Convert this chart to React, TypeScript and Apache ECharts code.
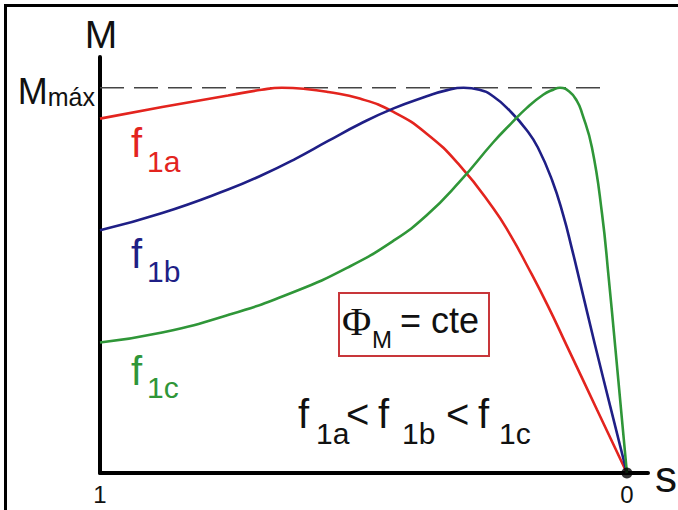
import React, { useEffect, useRef } from "react";
import * as echarts from "echarts";

// Torque–slip characteristics M(s) for three supply frequencies at constant flux.
// s runs from 1 (standstill, left) to 0 (synchronism, right); M in % of Mmáx.
const sRed = [1, 0.882, 0.757, 0.693, 0.655, 0.61, 0.567, 0.507, 0.444, 0.38, 0.317, 0.254, 0.22, 0.19, 0.15, 0.114, 0.057, 0];
const mRed = [92.0, 95.0, 98.0, 99.5, 100, 99.7, 98.9, 97.2, 93.8, 88.1, 79.8, 68.8, 61.5, 54.0, 43.4, 33.0, 16.5, 0];

const sBlue = [1, 0.882, 0.757, 0.693, 0.63, 0.567, 0.507, 0.444, 0.38, 0.341, 0.31, 0.28, 0.254, 0.222, 0.19, 0.169, 0.142, 0.121, 0.104, 0.089, 0.061, 0.032, 0];
const mBlue = [63.0, 67.5, 73.6, 77.3, 81.5, 86.2, 90.6, 94.6, 97.8, 99.4, 100, 99.5, 97.8, 94.0, 89.0, 84.5, 76.0, 67.0, 58.0, 49.5, 33.5, 17.5, 0];

const sGreen = [1, 0.882, 0.757, 0.63, 0.529, 0.444, 0.38, 0.317, 0.254, 0.22, 0.19, 0.159, 0.14, 0.127, 0.11, 0.095, 0.0854, 0.0664, 0.0474, 0.0345, 0.022, 0.0105, 0];
const mGreen = [33.9, 36.5, 41.0, 47.1, 53.4, 60.2, 66.9, 75.7, 85.8, 90.7, 94.8, 98.2, 99.5, 100, 99.1, 96.6, 93.5, 84.5, 67.5, 50.5, 32.5, 15.5, 0];

// Axis ticks and the breakdown-torque level
const sTicks = [1, 0];
const sTickLabels = ["1", "0"];
const mMax = 100;
const mMaxLabel = ["M", "máx"];
const sDashEnd = 0.047;

const FONT = '"Liberation Sans", Arial, Helvetica, sans-serif';
const SERIF = '"Liberation Serif", "DejaVu Serif", "Times New Roman", serif';

const RED = "#e3241e";
const BLUE = "#1f1f86";
const GREEN = "#2f9638";

const pairs = (xs: number[], ys: number[]) => xs.map((x, i) => [x, ys[i]]);

// text placed by its alphabetic baseline
const txt = (
  x: number,
  baseline: number,
  text: string,
  size: number,
  fill: string,
  family = FONT,
  align = "left"
) => ({
  type: "text",
  x,
  y: baseline - 0.3465 * size,
  silent: true,
  style: {
    text,
    fontSize: size,
    fontFamily: family,
    fill,
    align,
    verticalAlign: "middle",
  },
});

export default function App() {
  const ref = useRef<HTMLDivElement>(null);

  useEffect(() => {
    if (!ref.current) return;
    const chart = echarts.init(ref.current, null, { renderer: "svg" });

    const curve = (name: string, xs: number[], ys: number[], color: string) => ({
      name,
      type: "line",
      data: pairs(xs, ys),
      showSymbol: false,
      smooth: 0.5,
      lineStyle: { color, width: 2.6 },
      z: 3,
    });

    chart.setOption({
      animation: false,
      backgroundColor: "#ffffff",
      grid: { left: 100, right: 30, top: 57, bottom: 37 },
      xAxis: {
        type: "value",
        min: -0.04,
        max: 1,
        inverse: true,
        axisLine: { show: true, onZero: false, lineStyle: { color: "#000", width: 4 } },
        axisTick: { show: false },
        splitLine: { show: false },
        axisLabel: {
          customValues: sTicks,
          formatter: (v: number) => sTickLabels[sTicks.indexOf(v)] ?? "",
          fontSize: 24,
          fontFamily: FONT,
          color: "#111",
          margin: 9,
        },
      },
      yAxis: {
        type: "value",
        position: "left",
        min: 0,
        max: 108,
        axisLine: { show: true, onZero: false, lineStyle: { color: "#000", width: 4 } },
        axisTick: { show: false },
        splitLine: { show: false },
        axisLabel: {
          customValues: [mMax],
          formatter: () => `{m|${mMaxLabel[0]}}{s|${mMaxLabel[1]}}`,
          margin: 5,
          padding: [8, 0, 0, 0],
          verticalAlign: "middle",
          rich: {
            m: { fontSize: 36, lineHeight: 36, fontFamily: FONT, color: "#111", verticalAlign: "bottom" },
            s: { fontSize: 25, lineHeight: 16, fontFamily: FONT, color: "#111", verticalAlign: "bottom" },
          },
        },
      },
      series: [
        {
          name: "Mmáx",
          type: "line",
          data: [
            [1, mMax],
            [sDashEnd, mMax],
          ],
          showSymbol: false,
          lineStyle: { color: "#444", width: 1.5, type: [24, 10] },
          z: 2,
        },
        curve("f1a", sRed, mRed, RED),
        curve("f1b", sBlue, mBlue, BLUE),
        curve("f1c", sGreen, mGreen, GREEN),
        {
          name: "origen",
          type: "scatter",
          data: [[0, 0]],
          symbolSize: 11,
          itemStyle: { color: "#000" },
          z: 5,
        },
      ],
      graphic: [
        // outer frame
        {
          type: "rect",
          shape: { x: 5.5, y: 5.5, width: 720, height: 560 },
          style: { fill: "none", stroke: "#000", lineWidth: 3 },
          silent: true,
        },
        // axis names
        txt(101, 48, "M", 39, "#111", FONT, "center"),
        txt(655, 492, "s", 44, "#111", FONT, "left"),
        // curve labels
        txt(131, 157, "f", 40, RED),
        txt(147, 172, "1a", 30, RED),
        txt(131, 268, "f", 40, BLUE),
        txt(147, 282, "1b", 30, BLUE),
        txt(131, 385, "f", 40, GREEN),
        txt(147, 398, "1c", 30, GREEN),
        // constant flux box
        {
          type: "rect",
          shape: { x: 339, y: 293, width: 150, height: 63 },
          style: { fill: "none", stroke: "#c8363a", lineWidth: 2 },
          silent: true,
        },
        txt(342, 335, "Φ", 40, "#111", SERIF),
        txt(372, 348, "M", 24, "#111"),
        txt(400, 333, "= cte", 36, "#111"),
        // frequency ordering
        txt(298, 428, "f", 40, "#111"),
        txt(316, 444, "1a", 30, "#111"),
        txt(346, 428, "<", 40, "#111"),
        txt(378, 428, "f", 40, "#111"),
        txt(402, 444, "1b", 30, "#111"),
        txt(446, 428, "<", 40, "#111"),
        txt(478, 428, "f", 40, "#111"),
        txt(499, 444, "1c", 30, "#111"),
      ],
    });

    return () => chart.dispose();
  }, []);

  return (
    <div
      ref={ref}
      style={{ position: "fixed", left: 0, top: 0, width: 678, height: 510, background: "#fff" }}
    />
  );
}
